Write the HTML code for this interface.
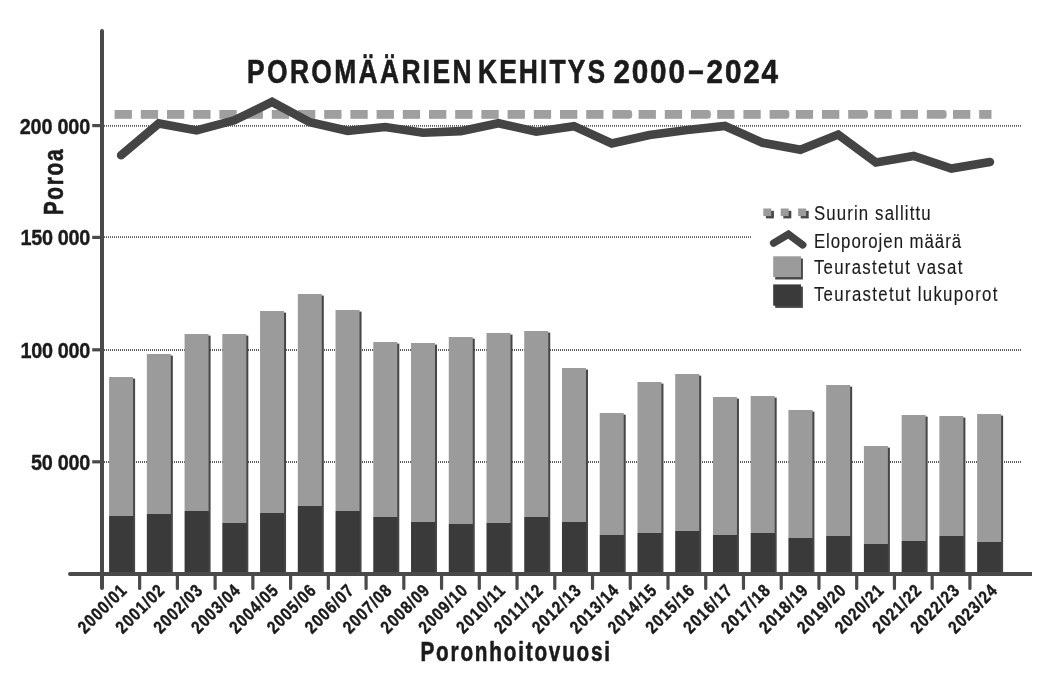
<!DOCTYPE html>
<html lang="fi">
<head>
<meta charset="utf-8">
<title>Poromäärien kehitys 2000–2024</title>
<style>
html,body{margin:0;padding:0;background:#fff;}
body{width:1047px;height:683px;overflow:hidden;}
svg{display:block;}
</style>
</head>
<body>
<svg width="1047" height="683" viewBox="0 0 1047 683">
<rect width="1047" height="683" fill="#ffffff"/>
<line x1="104" y1="125.9" x2="1021.3" y2="125.9" stroke="#5c5c5c" stroke-width="1.9" stroke-dasharray="1 1"/>
<line x1="104" y1="237.1" x2="752" y2="237.1" stroke="#5c5c5c" stroke-width="1.9" stroke-dasharray="1 1"/>
<line x1="104" y1="350.0" x2="1021.3" y2="350.0" stroke="#5c5c5c" stroke-width="1.9" stroke-dasharray="1 1"/>
<line x1="104" y1="462.0" x2="1021.3" y2="462.0" stroke="#5c5c5c" stroke-width="1.9" stroke-dasharray="1 1"/>
<rect x="111.10" y="378.6" width="24" height="193.90" fill="#464646"/>
<rect x="109.10" y="377" width="24" height="139" fill="#9b9b9b"/>
<rect x="109.10" y="516" width="24" height="56.50" fill="#3a3a3a"/>
<rect x="148.84" y="355.6" width="24" height="216.90" fill="#464646"/>
<rect x="146.84" y="354" width="24" height="160" fill="#9b9b9b"/>
<rect x="146.84" y="514" width="24" height="58.50" fill="#3a3a3a"/>
<rect x="186.58" y="335.6" width="24" height="236.90" fill="#464646"/>
<rect x="184.58" y="334" width="24" height="177" fill="#9b9b9b"/>
<rect x="184.58" y="511" width="24" height="61.50" fill="#3a3a3a"/>
<rect x="224.32" y="335.6" width="24" height="236.90" fill="#464646"/>
<rect x="222.32" y="334" width="24" height="189" fill="#9b9b9b"/>
<rect x="222.32" y="523" width="24" height="49.50" fill="#3a3a3a"/>
<rect x="262.06" y="312.6" width="24" height="259.90" fill="#464646"/>
<rect x="260.06" y="311" width="24" height="202" fill="#9b9b9b"/>
<rect x="260.06" y="513" width="24" height="59.50" fill="#3a3a3a"/>
<rect x="299.80" y="295.6" width="24" height="276.90" fill="#464646"/>
<rect x="297.80" y="294" width="24" height="212" fill="#9b9b9b"/>
<rect x="297.80" y="506" width="24" height="66.50" fill="#3a3a3a"/>
<rect x="337.54" y="311.6" width="24" height="260.90" fill="#464646"/>
<rect x="335.54" y="310" width="24" height="201" fill="#9b9b9b"/>
<rect x="335.54" y="511" width="24" height="61.50" fill="#3a3a3a"/>
<rect x="375.28" y="343.6" width="24" height="228.90" fill="#464646"/>
<rect x="373.28" y="342" width="24" height="175" fill="#9b9b9b"/>
<rect x="373.28" y="517" width="24" height="55.50" fill="#3a3a3a"/>
<rect x="413.02" y="344.6" width="24" height="227.90" fill="#464646"/>
<rect x="411.02" y="343" width="24" height="179" fill="#9b9b9b"/>
<rect x="411.02" y="522" width="24" height="50.50" fill="#3a3a3a"/>
<rect x="450.76" y="338.6" width="24" height="233.90" fill="#464646"/>
<rect x="448.76" y="337" width="24" height="187" fill="#9b9b9b"/>
<rect x="448.76" y="524" width="24" height="48.50" fill="#3a3a3a"/>
<rect x="488.50" y="334.6" width="24" height="237.90" fill="#464646"/>
<rect x="486.50" y="333" width="24" height="190" fill="#9b9b9b"/>
<rect x="486.50" y="523" width="24" height="49.50" fill="#3a3a3a"/>
<rect x="526.24" y="332.6" width="24" height="239.90" fill="#464646"/>
<rect x="524.24" y="331" width="24" height="186" fill="#9b9b9b"/>
<rect x="524.24" y="517" width="24" height="55.50" fill="#3a3a3a"/>
<rect x="563.98" y="369.6" width="24" height="202.90" fill="#464646"/>
<rect x="561.98" y="368" width="24" height="154" fill="#9b9b9b"/>
<rect x="561.98" y="522" width="24" height="50.50" fill="#3a3a3a"/>
<rect x="601.72" y="414.6" width="24" height="157.90" fill="#464646"/>
<rect x="599.72" y="413" width="24" height="122" fill="#9b9b9b"/>
<rect x="599.72" y="535" width="24" height="37.50" fill="#3a3a3a"/>
<rect x="639.46" y="383.6" width="24" height="188.90" fill="#464646"/>
<rect x="637.46" y="382" width="24" height="151" fill="#9b9b9b"/>
<rect x="637.46" y="533" width="24" height="39.50" fill="#3a3a3a"/>
<rect x="677.20" y="375.6" width="24" height="196.90" fill="#464646"/>
<rect x="675.20" y="374" width="24" height="157" fill="#9b9b9b"/>
<rect x="675.20" y="531" width="24" height="41.50" fill="#3a3a3a"/>
<rect x="714.94" y="398.6" width="24" height="173.90" fill="#464646"/>
<rect x="712.94" y="397" width="24" height="138" fill="#9b9b9b"/>
<rect x="712.94" y="535" width="24" height="37.50" fill="#3a3a3a"/>
<rect x="752.68" y="397.6" width="24" height="174.90" fill="#464646"/>
<rect x="750.68" y="396" width="24" height="137" fill="#9b9b9b"/>
<rect x="750.68" y="533" width="24" height="39.50" fill="#3a3a3a"/>
<rect x="790.42" y="411.6" width="24" height="160.90" fill="#464646"/>
<rect x="788.42" y="410" width="24" height="128" fill="#9b9b9b"/>
<rect x="788.42" y="538" width="24" height="34.50" fill="#3a3a3a"/>
<rect x="828.16" y="386.6" width="24" height="185.90" fill="#464646"/>
<rect x="826.16" y="385" width="24" height="151" fill="#9b9b9b"/>
<rect x="826.16" y="536" width="24" height="36.50" fill="#3a3a3a"/>
<rect x="865.90" y="447.6" width="24" height="124.90" fill="#464646"/>
<rect x="863.90" y="446" width="24" height="98" fill="#9b9b9b"/>
<rect x="863.90" y="544" width="24" height="28.50" fill="#3a3a3a"/>
<rect x="903.64" y="416.6" width="24" height="155.90" fill="#464646"/>
<rect x="901.64" y="415" width="24" height="126" fill="#9b9b9b"/>
<rect x="901.64" y="541" width="24" height="31.50" fill="#3a3a3a"/>
<rect x="941.38" y="417.6" width="24" height="154.90" fill="#464646"/>
<rect x="939.38" y="416" width="24" height="120" fill="#9b9b9b"/>
<rect x="939.38" y="536" width="24" height="36.50" fill="#3a3a3a"/>
<rect x="979.12" y="415.6" width="24" height="156.90" fill="#464646"/>
<rect x="977.12" y="414" width="24" height="128" fill="#9b9b9b"/>
<rect x="977.12" y="542" width="24" height="30.50" fill="#3a3a3a"/>
<rect x="114.60" y="110.0" width="17.30" height="8.8" fill="#9f9f9f"/>
<rect x="140.80" y="110.0" width="17.30" height="8.8" fill="#9f9f9f"/>
<rect x="167.00" y="110.0" width="17.30" height="8.8" fill="#9f9f9f"/>
<rect x="193.20" y="110.0" width="17.30" height="8.8" fill="#9f9f9f"/>
<rect x="219.40" y="110.0" width="17.30" height="8.8" fill="#9f9f9f"/>
<rect x="245.60" y="110.0" width="17.30" height="8.8" fill="#9f9f9f"/>
<rect x="271.80" y="110.0" width="17.30" height="8.8" fill="#9f9f9f"/>
<rect x="298.00" y="110.0" width="17.30" height="8.8" fill="#9f9f9f"/>
<rect x="324.20" y="110.0" width="17.30" height="8.8" fill="#9f9f9f"/>
<rect x="350.40" y="110.0" width="17.30" height="8.8" fill="#9f9f9f"/>
<rect x="376.60" y="110.0" width="17.30" height="8.8" fill="#9f9f9f"/>
<rect x="402.80" y="110.0" width="17.30" height="8.8" fill="#9f9f9f"/>
<rect x="429.00" y="110.0" width="17.30" height="8.8" fill="#9f9f9f"/>
<rect x="455.20" y="110.0" width="17.30" height="8.8" fill="#9f9f9f"/>
<rect x="481.40" y="110.0" width="17.30" height="8.8" fill="#9f9f9f"/>
<rect x="507.60" y="110.0" width="17.30" height="8.8" fill="#9f9f9f"/>
<rect x="533.80" y="110.0" width="17.30" height="8.8" fill="#9f9f9f"/>
<rect x="560.00" y="110.0" width="17.30" height="8.8" fill="#9f9f9f"/>
<rect x="586.20" y="110.0" width="17.30" height="8.8" fill="#9f9f9f"/>
<path d="M612.40 110.0 h16.60 a3.2 3.2 0 0 1 3.2 3.2 v2.40 a3.2 3.2 0 0 1 -3.2 3.2 h-16.60 z" fill="#9f9f9f"/>
<rect x="638.60" y="110.0" width="17.30" height="8.8" fill="#9f9f9f"/>
<rect x="664.80" y="110.0" width="17.30" height="8.8" fill="#9f9f9f"/>
<path d="M691.00 110.0 h16.60 a3.2 3.2 0 0 1 3.2 3.2 v2.40 a3.2 3.2 0 0 1 -3.2 3.2 h-16.60 z" fill="#9f9f9f"/>
<rect x="717.20" y="110.0" width="17.30" height="8.8" fill="#9f9f9f"/>
<rect x="743.40" y="110.0" width="17.30" height="8.8" fill="#9f9f9f"/>
<path d="M769.60 110.0 h16.60 a3.2 3.2 0 0 1 3.2 3.2 v2.40 a3.2 3.2 0 0 1 -3.2 3.2 h-16.60 z" fill="#9f9f9f"/>
<rect x="795.80" y="110.0" width="17.30" height="8.8" fill="#9f9f9f"/>
<rect x="822.00" y="110.0" width="17.30" height="8.8" fill="#9f9f9f"/>
<path d="M848.20 110.0 h16.60 a3.2 3.2 0 0 1 3.2 3.2 v2.40 a3.2 3.2 0 0 1 -3.2 3.2 h-16.60 z" fill="#9f9f9f"/>
<rect x="874.40" y="110.0" width="17.30" height="8.8" fill="#9f9f9f"/>
<rect x="900.60" y="110.0" width="17.30" height="8.8" fill="#9f9f9f"/>
<path d="M926.80 110.0 h16.60 a3.2 3.2 0 0 1 3.2 3.2 v2.40 a3.2 3.2 0 0 1 -3.2 3.2 h-16.60 z" fill="#9f9f9f"/>
<rect x="953.00" y="110.0" width="17.30" height="8.8" fill="#9f9f9f"/>
<rect x="979.20" y="110.0" width="12.30" height="8.8" fill="#9f9f9f"/>
<polyline points="121.10,155.3 158.84,123.4 196.58,130.4 234.32,120.3 272.06,101.9 309.80,122.3 347.54,130.8 385.28,127 423.02,132.7 460.76,131.1 498.50,123.2 536.24,131.7 573.98,126.2 611.72,143.4 649.46,135.1 687.20,130.1 724.94,126.0 762.68,142.8 800.42,149.7 838.16,134.6 875.90,162.5 913.64,156.0 951.38,168.5 989.92,162" fill="none" stroke="#444444" stroke-width="8.6" stroke-linecap="round" stroke-linejoin="miter" stroke-miterlimit="10"/>
<line x1="102" y1="31" x2="102" y2="588" stroke="#4a4a4a" stroke-width="4" stroke-linecap="round"/>
<line x1="70" y1="574.0" x2="1030" y2="574.0" stroke="#4a4a4a" stroke-width="4" stroke-linecap="round"/>
<rect x="1020" y="572" width="12" height="4" fill="#4a4a4a"/>
<line x1="139.64" y1="574.0" x2="139.64" y2="588.5" stroke="#4a4a4a" stroke-width="3.2" stroke-linecap="round"/>
<line x1="177.38" y1="574.0" x2="177.38" y2="588.5" stroke="#4a4a4a" stroke-width="3.2" stroke-linecap="round"/>
<line x1="215.12" y1="574.0" x2="215.12" y2="588.5" stroke="#4a4a4a" stroke-width="3.2" stroke-linecap="round"/>
<line x1="252.86" y1="574.0" x2="252.86" y2="588.5" stroke="#4a4a4a" stroke-width="3.2" stroke-linecap="round"/>
<line x1="290.60" y1="574.0" x2="290.60" y2="588.5" stroke="#4a4a4a" stroke-width="3.2" stroke-linecap="round"/>
<line x1="328.34" y1="574.0" x2="328.34" y2="588.5" stroke="#4a4a4a" stroke-width="3.2" stroke-linecap="round"/>
<line x1="366.08" y1="574.0" x2="366.08" y2="588.5" stroke="#4a4a4a" stroke-width="3.2" stroke-linecap="round"/>
<line x1="403.82" y1="574.0" x2="403.82" y2="588.5" stroke="#4a4a4a" stroke-width="3.2" stroke-linecap="round"/>
<line x1="441.56" y1="574.0" x2="441.56" y2="588.5" stroke="#4a4a4a" stroke-width="3.2" stroke-linecap="round"/>
<line x1="479.30" y1="574.0" x2="479.30" y2="588.5" stroke="#4a4a4a" stroke-width="3.2" stroke-linecap="round"/>
<line x1="517.04" y1="574.0" x2="517.04" y2="588.5" stroke="#4a4a4a" stroke-width="3.2" stroke-linecap="round"/>
<line x1="554.78" y1="574.0" x2="554.78" y2="588.5" stroke="#4a4a4a" stroke-width="3.2" stroke-linecap="round"/>
<line x1="592.52" y1="574.0" x2="592.52" y2="588.5" stroke="#4a4a4a" stroke-width="3.2" stroke-linecap="round"/>
<line x1="630.26" y1="574.0" x2="630.26" y2="588.5" stroke="#4a4a4a" stroke-width="3.2" stroke-linecap="round"/>
<line x1="668.00" y1="574.0" x2="668.00" y2="588.5" stroke="#4a4a4a" stroke-width="3.2" stroke-linecap="round"/>
<line x1="705.74" y1="574.0" x2="705.74" y2="588.5" stroke="#4a4a4a" stroke-width="3.2" stroke-linecap="round"/>
<line x1="743.48" y1="574.0" x2="743.48" y2="588.5" stroke="#4a4a4a" stroke-width="3.2" stroke-linecap="round"/>
<line x1="781.22" y1="574.0" x2="781.22" y2="588.5" stroke="#4a4a4a" stroke-width="3.2" stroke-linecap="round"/>
<line x1="818.96" y1="574.0" x2="818.96" y2="588.5" stroke="#4a4a4a" stroke-width="3.2" stroke-linecap="round"/>
<line x1="856.70" y1="574.0" x2="856.70" y2="588.5" stroke="#4a4a4a" stroke-width="3.2" stroke-linecap="round"/>
<line x1="894.44" y1="574.0" x2="894.44" y2="588.5" stroke="#4a4a4a" stroke-width="3.2" stroke-linecap="round"/>
<line x1="932.18" y1="574.0" x2="932.18" y2="588.5" stroke="#4a4a4a" stroke-width="3.2" stroke-linecap="round"/>
<line x1="969.92" y1="574.0" x2="969.92" y2="588.5" stroke="#4a4a4a" stroke-width="3.2" stroke-linecap="round"/>
<line x1="92.2" y1="125.6" x2="102" y2="125.6" stroke="#4a4a4a" stroke-width="3.2"/>
<line x1="92.2" y1="237.4" x2="102" y2="237.4" stroke="#4a4a4a" stroke-width="3.2"/>
<line x1="92.2" y1="349.8" x2="102" y2="349.8" stroke="#4a4a4a" stroke-width="3.2"/>
<line x1="92.2" y1="461.8" x2="102" y2="461.8" stroke="#4a4a4a" stroke-width="3.2"/>
<rect x="765.90" y="210.8" width="8" height="7.6" fill="#464646"/>
<rect x="763.30" y="208.5" width="8" height="7.6" fill="#9b9b9b"/>
<rect x="783.30" y="210.8" width="8" height="7.6" fill="#464646"/>
<rect x="780.70" y="208.5" width="8" height="7.6" fill="#9b9b9b"/>
<rect x="800.70" y="210.8" width="8" height="7.6" fill="#464646"/>
<rect x="798.10" y="208.5" width="8" height="7.6" fill="#9b9b9b"/>
<polyline points="773.6,243.1 788.4,234.3 802.8,244.9" fill="none" stroke="#444444" stroke-width="7.4" stroke-linecap="round" stroke-linejoin="miter"/>
<rect x="775.2" y="258.5" width="27.7" height="21" fill="#464646"/>
<rect x="773.2" y="256.3" width="27.8" height="20.8" fill="#9b9b9b"/>
<rect x="775.2" y="286.6" width="27.7" height="21.3" fill="#464646"/>
<rect x="773.2" y="284.4" width="27.8" height="21.3" fill="#3a3a3a"/>
<text transform="translate(19.80,133.70) scale(0.87,1)" font-family="Liberation Sans, Arial, Helvetica, sans-serif" font-size="22.8" font-weight="700" fill="#1b1b1b" stroke="#1b1b1b" stroke-width="0.4" stroke-linejoin="round" textLength="80.92" lengthAdjust="spacing">200 000</text>
<text transform="translate(20.60,245.30) scale(0.87,1)" font-family="Liberation Sans, Arial, Helvetica, sans-serif" font-size="22.8" font-weight="700" fill="#1b1b1b" stroke="#1b1b1b" stroke-width="0.4" stroke-linejoin="round" textLength="80.00" lengthAdjust="spacing">150 000</text>
<text transform="translate(20.60,357.90) scale(0.87,1)" font-family="Liberation Sans, Arial, Helvetica, sans-serif" font-size="22.8" font-weight="700" fill="#1b1b1b" stroke="#1b1b1b" stroke-width="0.4" stroke-linejoin="round" textLength="80.00" lengthAdjust="spacing">100 000</text>
<text transform="translate(30.90,469.90) scale(0.87,1)" font-family="Liberation Sans, Arial, Helvetica, sans-serif" font-size="22.8" font-weight="700" fill="#1b1b1b" stroke="#1b1b1b" stroke-width="0.4" stroke-linejoin="round" textLength="68.16" lengthAdjust="spacing">50 000</text>
<text transform="translate(247.10,82.80) scale(0.8,1)" font-family="Liberation Sans, Arial, Helvetica, sans-serif" font-size="33" font-weight="700" fill="#1b1b1b" stroke="#1b1b1b" stroke-width="0.6" stroke-linejoin="round" textLength="280.62" lengthAdjust="spacing">POROMÄÄRIEN</text>
<text transform="translate(478.00,82.80) scale(0.8,1)" font-family="Liberation Sans, Arial, Helvetica, sans-serif" font-size="33" font-weight="700" fill="#1b1b1b" stroke="#1b1b1b" stroke-width="0.6" stroke-linejoin="round" textLength="158.75" lengthAdjust="spacing">KEHITYS</text>
<text transform="translate(613.40,82.80) scale(0.9,1)" font-family="Liberation Sans, Arial, Helvetica, sans-serif" font-size="33" font-weight="700" fill="#1b1b1b" stroke="#1b1b1b" stroke-width="0.6" stroke-linejoin="round" textLength="79.56" lengthAdjust="spacing">2000</text>
<text transform="translate(688.20,81.30) scale(0.8,1)" font-family="Liberation Sans, Arial, Helvetica, sans-serif" font-size="33" font-weight="700" fill="#1b1b1b" stroke="#1b1b1b" stroke-width="0.6" stroke-linejoin="round" textLength="19.25" lengthAdjust="spacingAndGlyphs">–</text>
<text transform="translate(706.60,82.80) scale(0.9,1)" font-family="Liberation Sans, Arial, Helvetica, sans-serif" font-size="33" font-weight="700" fill="#1b1b1b" stroke="#1b1b1b" stroke-width="0.6" stroke-linejoin="round" textLength="79.33" lengthAdjust="spacing">2024</text>
<text transform="translate(420.50,660.60) scale(0.77,1)" font-family="Liberation Sans, Arial, Helvetica, sans-serif" font-size="26.9" font-weight="700" fill="#1b1b1b" stroke="#1b1b1b" stroke-width="0.6" stroke-linejoin="round" textLength="246.23" lengthAdjust="spacing">Poronhoitovuosi</text>
<text transform="translate(63.00,215.20) rotate(-90) scale(0.77,1)" font-family="Liberation Sans, Arial, Helvetica, sans-serif" font-size="27" font-weight="700" fill="#1b1b1b" stroke="#1b1b1b" stroke-width="0.6" stroke-linejoin="round" textLength="85.45" lengthAdjust="spacing">Poroa</text>
<text transform="translate(813.90,219.70) scale(0.8,1)" font-family="Liberation Sans, Arial, Helvetica, sans-serif" font-size="21" font-weight="400" fill="#1b1b1b" stroke="#1b1b1b" stroke-width="0.15" stroke-linejoin="round" textLength="146.00" lengthAdjust="spacing">Suurin sallittu</text>
<text transform="translate(813.90,247.50) scale(0.8,1)" font-family="Liberation Sans, Arial, Helvetica, sans-serif" font-size="21" font-weight="400" fill="#1b1b1b" stroke="#1b1b1b" stroke-width="0.15" stroke-linejoin="round" textLength="184.00" lengthAdjust="spacing">Eloporojen määrä</text>
<text transform="translate(813.90,274.40) scale(0.8,1)" font-family="Liberation Sans, Arial, Helvetica, sans-serif" font-size="21" font-weight="400" fill="#1b1b1b" stroke="#1b1b1b" stroke-width="0.15" stroke-linejoin="round" textLength="185.50" lengthAdjust="spacing">Teurastetut vasat</text>
<text transform="translate(813.90,301.30) scale(0.8,1)" font-family="Liberation Sans, Arial, Helvetica, sans-serif" font-size="21" font-weight="400" fill="#1b1b1b" stroke="#1b1b1b" stroke-width="0.15" stroke-linejoin="round" textLength="229.38" lengthAdjust="spacing">Teurastetut lukuporot</text>
<text transform="translate(85.00,634.40) rotate(-45) scale(0.84,1)" font-family="Liberation Sans, Arial, Helvetica, sans-serif" font-size="17.8" font-weight="700" fill="#1b1b1b" stroke="#1b1b1b" stroke-width="0.45" stroke-linejoin="round" textLength="71.79" lengthAdjust="spacing">2000/01</text>
<text transform="translate(122.85,634.40) rotate(-45) scale(0.84,1)" font-family="Liberation Sans, Arial, Helvetica, sans-serif" font-size="17.8" font-weight="700" fill="#1b1b1b" stroke="#1b1b1b" stroke-width="0.45" stroke-linejoin="round" textLength="71.79" lengthAdjust="spacing">2001/02</text>
<text transform="translate(160.70,634.40) rotate(-45) scale(0.84,1)" font-family="Liberation Sans, Arial, Helvetica, sans-serif" font-size="17.8" font-weight="700" fill="#1b1b1b" stroke="#1b1b1b" stroke-width="0.45" stroke-linejoin="round" textLength="71.79" lengthAdjust="spacing">2002/03</text>
<text transform="translate(198.55,634.40) rotate(-45) scale(0.84,1)" font-family="Liberation Sans, Arial, Helvetica, sans-serif" font-size="17.8" font-weight="700" fill="#1b1b1b" stroke="#1b1b1b" stroke-width="0.45" stroke-linejoin="round" textLength="71.79" lengthAdjust="spacing">2003/04</text>
<text transform="translate(236.40,634.40) rotate(-45) scale(0.84,1)" font-family="Liberation Sans, Arial, Helvetica, sans-serif" font-size="17.8" font-weight="700" fill="#1b1b1b" stroke="#1b1b1b" stroke-width="0.45" stroke-linejoin="round" textLength="71.79" lengthAdjust="spacing">2004/05</text>
<text transform="translate(274.25,634.40) rotate(-45) scale(0.84,1)" font-family="Liberation Sans, Arial, Helvetica, sans-serif" font-size="17.8" font-weight="700" fill="#1b1b1b" stroke="#1b1b1b" stroke-width="0.45" stroke-linejoin="round" textLength="71.79" lengthAdjust="spacing">2005/06</text>
<text transform="translate(312.10,634.40) rotate(-45) scale(0.84,1)" font-family="Liberation Sans, Arial, Helvetica, sans-serif" font-size="17.8" font-weight="700" fill="#1b1b1b" stroke="#1b1b1b" stroke-width="0.45" stroke-linejoin="round" textLength="71.79" lengthAdjust="spacing">2006/07</text>
<text transform="translate(349.95,634.40) rotate(-45) scale(0.84,1)" font-family="Liberation Sans, Arial, Helvetica, sans-serif" font-size="17.8" font-weight="700" fill="#1b1b1b" stroke="#1b1b1b" stroke-width="0.45" stroke-linejoin="round" textLength="71.79" lengthAdjust="spacing">2007/08</text>
<text transform="translate(387.80,634.40) rotate(-45) scale(0.84,1)" font-family="Liberation Sans, Arial, Helvetica, sans-serif" font-size="17.8" font-weight="700" fill="#1b1b1b" stroke="#1b1b1b" stroke-width="0.45" stroke-linejoin="round" textLength="71.79" lengthAdjust="spacing">2008/09</text>
<text transform="translate(425.65,634.40) rotate(-45) scale(0.84,1)" font-family="Liberation Sans, Arial, Helvetica, sans-serif" font-size="17.8" font-weight="700" fill="#1b1b1b" stroke="#1b1b1b" stroke-width="0.45" stroke-linejoin="round" textLength="71.79" lengthAdjust="spacing">2009/10</text>
<text transform="translate(463.50,634.40) rotate(-45) scale(0.84,1)" font-family="Liberation Sans, Arial, Helvetica, sans-serif" font-size="17.8" font-weight="700" fill="#1b1b1b" stroke="#1b1b1b" stroke-width="0.45" stroke-linejoin="round" textLength="71.79" lengthAdjust="spacing">2010/11</text>
<text transform="translate(501.35,634.40) rotate(-45) scale(0.84,1)" font-family="Liberation Sans, Arial, Helvetica, sans-serif" font-size="17.8" font-weight="700" fill="#1b1b1b" stroke="#1b1b1b" stroke-width="0.45" stroke-linejoin="round" textLength="71.79" lengthAdjust="spacing">2011/12</text>
<text transform="translate(539.20,634.40) rotate(-45) scale(0.84,1)" font-family="Liberation Sans, Arial, Helvetica, sans-serif" font-size="17.8" font-weight="700" fill="#1b1b1b" stroke="#1b1b1b" stroke-width="0.45" stroke-linejoin="round" textLength="71.79" lengthAdjust="spacing">2012/13</text>
<text transform="translate(577.05,634.40) rotate(-45) scale(0.84,1)" font-family="Liberation Sans, Arial, Helvetica, sans-serif" font-size="17.8" font-weight="700" fill="#1b1b1b" stroke="#1b1b1b" stroke-width="0.45" stroke-linejoin="round" textLength="71.79" lengthAdjust="spacing">2013/14</text>
<text transform="translate(614.90,634.40) rotate(-45) scale(0.84,1)" font-family="Liberation Sans, Arial, Helvetica, sans-serif" font-size="17.8" font-weight="700" fill="#1b1b1b" stroke="#1b1b1b" stroke-width="0.45" stroke-linejoin="round" textLength="71.79" lengthAdjust="spacing">2014/15</text>
<text transform="translate(652.75,634.40) rotate(-45) scale(0.84,1)" font-family="Liberation Sans, Arial, Helvetica, sans-serif" font-size="17.8" font-weight="700" fill="#1b1b1b" stroke="#1b1b1b" stroke-width="0.45" stroke-linejoin="round" textLength="71.79" lengthAdjust="spacing">2015/16</text>
<text transform="translate(690.60,634.40) rotate(-45) scale(0.84,1)" font-family="Liberation Sans, Arial, Helvetica, sans-serif" font-size="17.8" font-weight="700" fill="#1b1b1b" stroke="#1b1b1b" stroke-width="0.45" stroke-linejoin="round" textLength="71.79" lengthAdjust="spacing">2016/17</text>
<text transform="translate(728.45,634.40) rotate(-45) scale(0.84,1)" font-family="Liberation Sans, Arial, Helvetica, sans-serif" font-size="17.8" font-weight="700" fill="#1b1b1b" stroke="#1b1b1b" stroke-width="0.45" stroke-linejoin="round" textLength="71.79" lengthAdjust="spacing">2017/18</text>
<text transform="translate(766.30,634.40) rotate(-45) scale(0.84,1)" font-family="Liberation Sans, Arial, Helvetica, sans-serif" font-size="17.8" font-weight="700" fill="#1b1b1b" stroke="#1b1b1b" stroke-width="0.45" stroke-linejoin="round" textLength="71.79" lengthAdjust="spacing">2018/19</text>
<text transform="translate(804.15,634.40) rotate(-45) scale(0.84,1)" font-family="Liberation Sans, Arial, Helvetica, sans-serif" font-size="17.8" font-weight="700" fill="#1b1b1b" stroke="#1b1b1b" stroke-width="0.45" stroke-linejoin="round" textLength="71.79" lengthAdjust="spacing">2019/20</text>
<text transform="translate(842.00,634.40) rotate(-45) scale(0.84,1)" font-family="Liberation Sans, Arial, Helvetica, sans-serif" font-size="17.8" font-weight="700" fill="#1b1b1b" stroke="#1b1b1b" stroke-width="0.45" stroke-linejoin="round" textLength="71.79" lengthAdjust="spacing">2020/21</text>
<text transform="translate(879.85,634.40) rotate(-45) scale(0.84,1)" font-family="Liberation Sans, Arial, Helvetica, sans-serif" font-size="17.8" font-weight="700" fill="#1b1b1b" stroke="#1b1b1b" stroke-width="0.45" stroke-linejoin="round" textLength="71.79" lengthAdjust="spacing">2021/22</text>
<text transform="translate(917.70,634.40) rotate(-45) scale(0.84,1)" font-family="Liberation Sans, Arial, Helvetica, sans-serif" font-size="17.8" font-weight="700" fill="#1b1b1b" stroke="#1b1b1b" stroke-width="0.45" stroke-linejoin="round" textLength="71.79" lengthAdjust="spacing">2022/23</text>
<text transform="translate(955.55,634.40) rotate(-45) scale(0.84,1)" font-family="Liberation Sans, Arial, Helvetica, sans-serif" font-size="17.8" font-weight="700" fill="#1b1b1b" stroke="#1b1b1b" stroke-width="0.45" stroke-linejoin="round" textLength="71.79" lengthAdjust="spacing">2023/24</text>
</svg>
</body>
</html>
